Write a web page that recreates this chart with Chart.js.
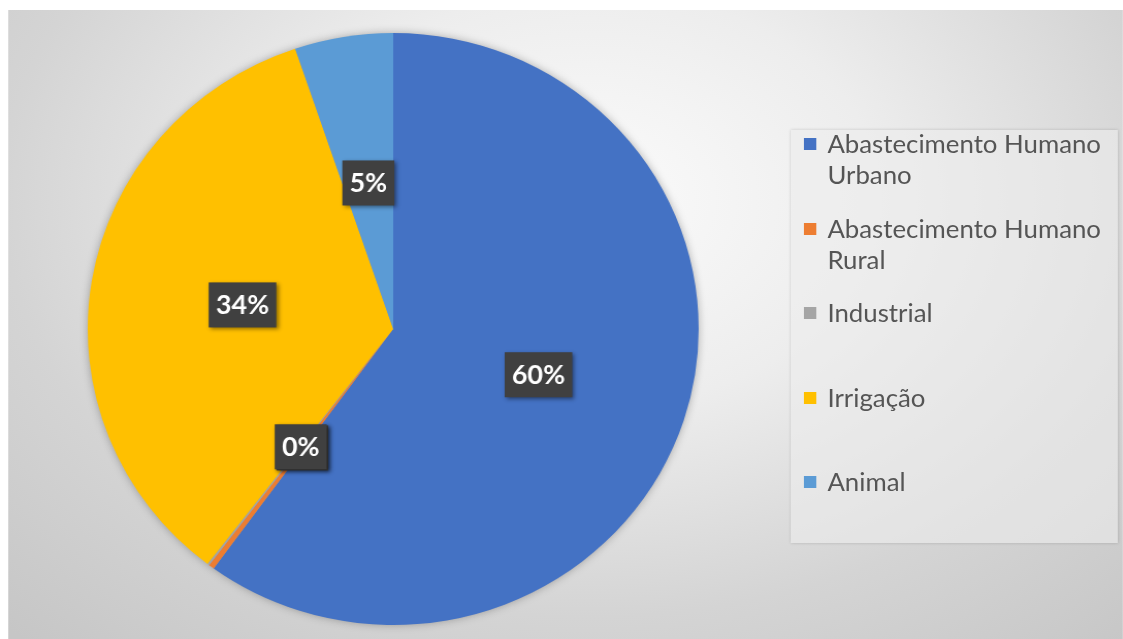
<!DOCTYPE html>
<html>
<head>
<meta charset="utf-8">
<script src="https://cdn.jsdelivr.net/npm/chart.js@4.4.1/dist/chart.umd.min.js"></script>
<style>
    html, body { margin: 0; padding: 0; background: #fff; }
    body { width: 1123px; height: 639px; overflow: hidden; position: relative; }
    /* the source image is a little wider than tall, so the whole scene is stretched */
    #stage { position: absolute; left: 0; top: 0; width: 1088px; height: 639px; transform: scaleX(1.032); transform-origin: 0 0; }
    #panel {
        position: absolute; left: 7.75px; top: 10px; width: 1080.5px; height: 629px; overflow: hidden;
        background: radial-gradient(ellipse 75% 95% at 52% 30%, #fbfbfb 0%, #ededed 35%, #d4d4d4 70%, #c6c6c6 100%);
    }
    #plot { position: absolute; left: 63.5px; top: 0; width: 620px; height: 629px; }
    #legend {
        position: absolute; left: 758px; top: 120px; width: 317px; height: 413px; box-sizing: border-box;
        padding: 0 0 0 36px; background: rgba(236, 236, 236, 0.6); box-shadow: 0 0 3px rgba(0, 0, 0, 0.18);
        font-family: Lato, sans-serif; font-size: 25px; line-height: 31px; color: #555555;
    }
    #legend .item { position: relative; height: 84.5px; }
    #legend .item:first-child { margin-top: -2px; }
    #legend .swatch { position: absolute; left: -23px; top: 10px; width: 12px; height: 12px; }
</style>
</head>
<body>
<div id="stage">
    <div id="panel">
        <div id="plot"><canvas id="usoChart"></canvas></div>
        <div id="legend"></div>
    </div>
</div>
<script>
    const categories = ['Abastecimento Humano Urbano', 'Abastecimento Humano Rural', 'Industrial', 'Irrigação', 'Animal'];
    const shares = [60.0, 0.3, 0.1, 34.4, 5.2];
    const sliceColors = ['#4472C4', '#ED7D31', '#A5A5A5', '#FFC000', '#5B9BD5'];

    // soft shadow under the whole pie
    const pieShadow = {
        id: 'pieShadow',
        beforeDatasetsDraw(chart) {
            const arc = chart.getDatasetMeta(0).data[0];
            const ctx = chart.ctx;
            ctx.save();
            ctx.shadowColor = 'rgba(0, 0, 0, 0.35)';
            ctx.shadowBlur = 10;
            ctx.beginPath();
            ctx.arc(arc.x, arc.y, arc.outerRadius - 1, 0, Math.PI * 2);
            ctx.fillStyle = '#999';
            ctx.fill();
            ctx.restore();
        }
    };

    // dark percentage boxes like the Excel data labels
    const pctLabels = {
        id: 'pctLabels',
        afterDatasetsDraw(chart) {
            const ctx = chart.ctx;
            const values = chart.data.datasets[0].data;
            const total = values.reduce((a, b) => a + b, 0);
            ctx.save();
            ctx.font = 'bold 26px Lato';
            ctx.textAlign = 'center';
            ctx.textBaseline = 'middle';
            chart.getDatasetMeta(0).data.forEach((arc, i) => {
                const pos = arc.tooltipPosition();
                const text = Math.round(values[i] / total * 100) + '%';
                const w = ctx.measureText(text).width + 14;
                const h = 45;
                ctx.shadowColor = 'rgba(0, 0, 0, 0.45)';
                ctx.shadowBlur = 4;
                ctx.shadowOffsetX = 2;
                ctx.shadowOffsetY = 2;
                ctx.fillStyle = '#404040';
                ctx.fillRect(pos.x - w / 2, pos.y - h / 2, w, h);
                ctx.shadowColor = 'transparent';
                ctx.fillStyle = '#ffffff';
                ctx.fillText(text, pos.x, pos.y + 1);
            });
            ctx.restore();
        }
    };

    function renderLegend(chart) {
        const ds = chart.data.datasets[0];
        const html = chart.data.labels.map((label, i) =>
            '<div class="item"><span class="swatch" style="background:' + ds.backgroundColor[i] + '"></span>' + label + '</div>'
        ).join('');
        document.getElementById('legend').innerHTML = html;
    }

    function initialize() {
        const ctx = document.getElementById('usoChart').getContext('2d');
        const chart = new Chart(ctx, {
            type: 'pie',
            data: {
                labels: categories,
                datasets: [{
                    data: shares,
                    backgroundColor: sliceColors,
                    borderWidth: 0,
                    hoverOffset: 0
                }]
            },
            options: {
                responsive: true,
                maintainAspectRatio: false,
                animation: false,
                events: [],
                radius: 296,
                layout: { padding: { top: 9 } },
                plugins: {
                    legend: { display: false },
                    tooltip: { enabled: false }
                }
            },
            plugins: [pieShadow, pctLabels]
        });
        renderLegend(chart);
    }

    document.fonts.load('bold 26px Lato').then(initialize, initialize);
</script>
</body>
</html>
